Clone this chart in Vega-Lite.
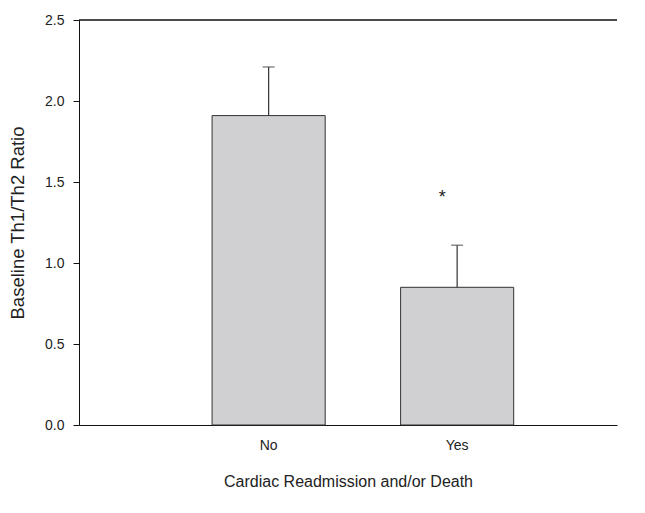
{
  "$schema": "https://vega.github.io/schema/vega-lite/v6.json",
  "width": 538,
  "height": 405,
  "autosize": {"type": "none"},
  "padding": {"left": 79, "top": 20, "right": 28, "bottom": 88},
  "background": "white",
  "config": {
    "view": {"stroke": null},
    "font": "Liberation Sans",
    "axis": {"grid": false, "domainColor": "#111", "tickColor": "#111", "labelColor": "#222", "titleColor": "#222", "labelFont": "Liberation Sans", "titleFont": "Liberation Sans", "titleFontWeight": "normal"}
  },
  "data": {
    "values": [
      {"group": "No", "mean": 1.91, "upper": 2.21, "sig": ""},
      {"group": "Yes", "mean": 0.85, "upper": 1.11, "sig": "*"}
    ]
  },
  "encoding": {
    "x": {
      "field": "group", "type": "nominal", "sort": ["No", "Yes"],
      "scale": {"paddingInner": 0.4, "paddingOuter": 0.627, "align": 0.563},
      "axis": {"title": "Cardiac Readmission and/or Death", "labelAngle": 0, "ticks": false, "labelPadding": 13, "labelFontSize": 14, "titleFontSize": 16, "titlePadding": 21}
    }
  },
  "layer": [
    {
      "mark": {"type": "bar", "fill": "#d0d0d2", "stroke": "#333", "strokeWidth": 1},
      "encoding": {
        "y": {
          "field": "mean", "type": "quantitative",
          "scale": {"domain": [0, 2.5], "nice": false, "zero": true},
          "axis": {"title": "Baseline Th1/Th2 Ratio", "values": [0, 0.5, 1, 1.5, 2, 2.5], "format": ".1f", "tickSize": 6, "labelPadding": 9, "labelFontSize": 14, "titleFontSize": 18.5, "titlePadding": 17}
        }
      }
    },
    {
      "mark": {"type": "rule", "color": "#333", "strokeWidth": 1.2},
      "encoding": {"y": {"field": "mean", "type": "quantitative"}, "y2": {"field": "upper"}}
    },
    {
      "mark": {"type": "tick", "color": "#333", "size": 12, "thickness": 1.2},
      "encoding": {"y": {"field": "upper", "type": "quantitative"}}
    },
    {
      "mark": {"type": "text", "fontSize": 18, "color": "#222", "baseline": "middle", "dy": 5, "dx": -15},
      "encoding": {"y": {"datum": 1.43, "type": "quantitative"}, "text": {"field": "sig"}}
    },
    {
      "mark": {"type": "rule", "color": "#111", "strokeWidth": 1},
      "encoding": {"y": {"datum": 2.5, "type": "quantitative"}, "x": {"value": 0}, "x2": {"value": 538}}
    }
  ]
}
